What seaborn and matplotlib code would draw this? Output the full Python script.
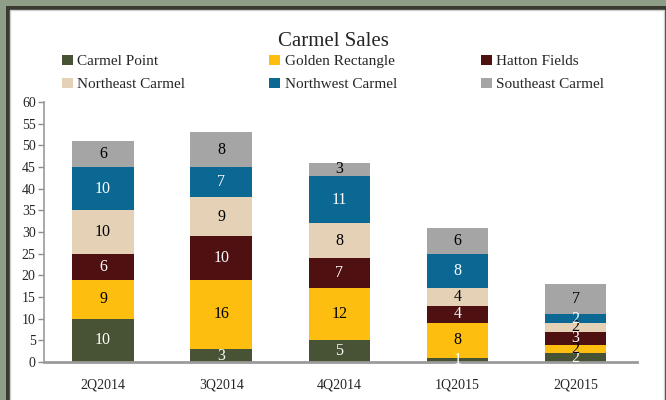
import numpy as np
import pandas as pd
import seaborn as sns
import matplotlib.pyplot as plt
from matplotlib.patches import Rectangle, Patch

quarters = ['2Q2014', '3Q2014', '4Q2014', '1Q2015', '2Q2015']
carmel_point = [10, 3, 5, 1, 2]
golden_rectangle = [9, 16, 12, 8, 2]
hatton_fields = [6, 10, 7, 4, 3]
northeast_carmel = [10, 9, 8, 4, 2]
northwest_carmel = [10, 7, 11, 8, 2]
southeast_carmel = [6, 8, 3, 6, 7]

series = ['Carmel Point', 'Golden Rectangle', 'Hatton Fields',
          'Northeast Carmel', 'Northwest Carmel', 'Southeast Carmel']
values = [carmel_point, golden_rectangle, hatton_fields,
          northeast_carmel, northwest_carmel, southeast_carmel]
colors = ['#475334', '#fdbe10', '#4f1011', '#e5d1b6', '#0b6893', '#a5a5a5']
label_colors = ['white', 'black', 'white', 'black', 'white', 'black']

sns.set_style('white')
plt.rcParams['font.family'] = ['Liberation Serif', 'DejaVu Serif']

df = pd.DataFrame(values, index=series, columns=quarters).T
cum = df.cumsum(axis=1)

fig = plt.figure(figsize=(6.66, 4.0), dpi=100)
fig.patch.set_facecolor('white')
# frame around the chart
fig.patches.append(Rectangle((0, 0), 1, 1, transform=fig.transFigure,
                             facecolor='#8f9e86', edgecolor='none', zorder=-3))
fig.patches.append(Rectangle((6 / 666, -0.1), 1, (400 - 6) / 400 + 0.1,
                             transform=fig.transFigure, facecolor='#3a3a32',
                             edgecolor='none', zorder=-2))
fig.patches.append(Rectangle((9.5 / 666, -0.1), (664 - 9.5) / 666, (400 - 10) / 400 + 0.1,
                             transform=fig.transFigure, facecolor='white',
                             edgecolor='#d0d0d0', linewidth=1, zorder=-1))

ax = fig.add_axes([44 / 666, 38 / 400, (637 - 44) / 666, 260 / 400])
ax.set_facecolor('none')

# stacked bars: draw cumulative totals from the top series down
for i in range(len(series) - 1, -1, -1):
    sns.barplot(x=quarters, y=cum[series[i]].values, color=colors[i],
                width=0.52, saturation=1, linewidth=0, ax=ax, zorder=2)

for i, name in enumerate(series):
    for j, q in enumerate(quarters):
        v = df.loc[q, name]
        mid = cum.loc[q, name] - v / 2
        ax.text(j, mid, str(v), ha='center', va='center', fontsize=11.5,
                color=label_colors[i], zorder=5)

ax.set_xlim(-0.5, 4.52)
ax.set_ylim(0, 60)
ax.set_yticks(range(0, 61, 5))
ax.tick_params(axis='y', direction='out', length=4, width=1, color='#8c8c8c',
               labelsize=10, pad=2, left=True)
ax.tick_params(axis='x', length=0, labelsize=10, pad=12)
for s in ['top', 'right']:
    ax.spines[s].set_visible(False)
ax.spines['left'].set_color('#9a9a9a')
ax.spines['left'].set_linewidth(1.2)
ax.spines['bottom'].set_color('#9a9a9a')
ax.spines['bottom'].set_linewidth(2)

fig.text(0.5, 0.897, 'Carmel Sales', ha='center', va='center', fontsize=15)

# legend filled row by row (matplotlib fills columns first)
order = [0, 3, 1, 4, 2, 5]
handles = [Patch(facecolor=colors[k], edgecolor='none') for k in order]
labels = [series[k] for k in order]
fig.legend(handles, labels, ncol=3, loc='center left',
           bbox_to_anchor=(56 / 666, 0.8175), frameon=False, fontsize=11,
           handlelength=0.7, handleheight=0.7, handletextpad=0.3,
           columnspacing=5.5, labelspacing=0.6, borderaxespad=0)

fig.savefig('out.png', dpi=100)
